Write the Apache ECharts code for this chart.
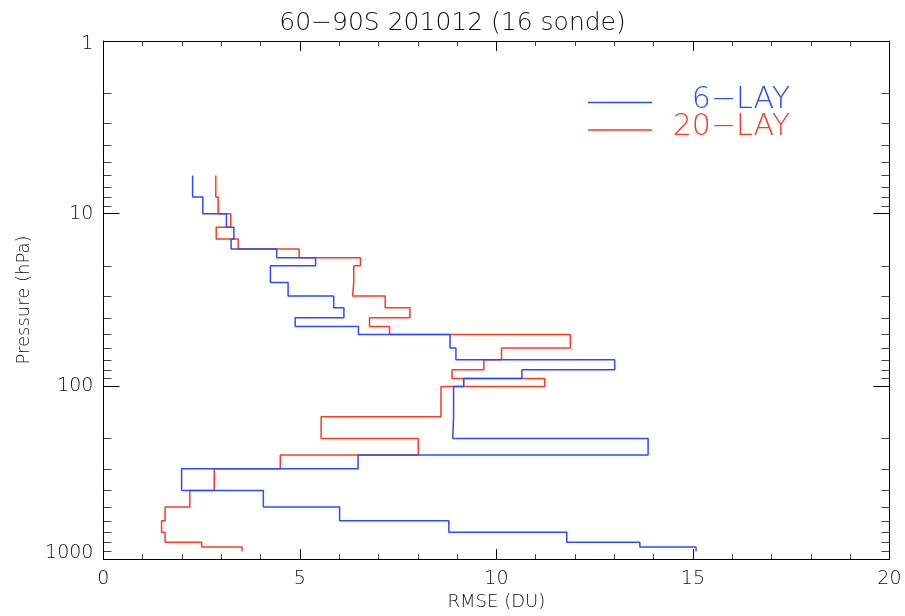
<!DOCTYPE html>
<html><head><meta charset="utf-8">
<script src="https://cdn.jsdelivr.net/npm/echarts@6/dist/echarts.min.js"></script>
<style>html,body{margin:0;padding:0;background:#fff}#c{width:905px;height:616px}</style>
</head><body><div id="c"></div>
<script>
// layer boundaries (hPa), top to bottom
const layerBounds = [6,8,10,12,14,16,18,20,25,30,35,40,45,50,60,70,80,90,100,150,200,250,300,400,500,600,700,800,850,900];
// RMSE (DU) per layer
const rmse6lay = [2.27,2.53,3.13,3.32,3.25,4.41,5.40,4.25,4.70,5.86,6.12,4.88,6.49,8.82,8.97,13.01,10.65,9.17,8.91,8.89,13.86,6.48,1.99,4.07,6.01,8.79,11.79,13.65,15.08];
const rmse20lay = [2.86,2.92,3.24,2.87,3.43,4.98,6.54,6.37,6.34,7.17,7.80,6.77,7.28,11.88,10.13,9.68,8.87,11.23,8.59,5.54,8.01,4.50,2.82,2.20,1.57,1.48,1.57,2.50,3.53];
const seriesNames = ['6-LAY','20-LAY'];
const xTicks = [0,5,10,15,20];
const yTicks = [1,10,100,1000];
const yMinorTicks = [2,3,4,5,6,7,8,9,20,30,40,50,60,70,80,90,200,300,400,500,600,700,800,900];

const BLUE = '#2b4cff', RED = '#ff3a1f';
const FONT = 'DejaVu Sans';
const TXT = '#111';

function stepPoints(vals){
  const pts = [];
  for (let i = 0; i < vals.length; i++){
    pts.push([vals[i], layerBounds[i]]);
    pts.push([vals[i], layerBounds[i+1]]);
  }
  return pts;
}

const chart = echarts.init(document.getElementById('c'), null, {renderer:'canvas'});
const axisCommonX = {
  type:'value', min:xTicks[0], max:xTicks[xTicks.length-1], interval:5,
  axisLine:{show:true, onZero:false, lineStyle:{color:'#000', width:1}},
  axisTick:{show:true, inside:true, length:10, lineStyle:{color:'#000', width:1}},
  minorTick:{show:true, splitNumber:5, length:5, lineStyle:{color:'#444', width:1}},
  splitLine:{show:false}, minorSplitLine:{show:false}
};
const axisCommonY = {
  type:'log', logBase:10, min:yTicks[0], max:yTicks[yTicks.length-1], inverse:true,
  axisLine:{show:true, onZero:false, lineStyle:{color:'#000', width:1}},
  axisTick:{show:true, inside:true, length:16, lineStyle:{color:'#000', width:1}},
  splitLine:{show:false}
};

chart.setOption({
  animation:false,
  backgroundColor:'#fff',
  title:{text:'60\u221290S 201012 (16 sonde)', left:'center', top:6,
    textStyle:{fontFamily:FONT, fontSize:25, fontWeight:200, color:TXT}},
  grid:{left:103.4, right:15.6, top:41, bottom:54, containLabel:false},
  xAxis:[
    Object.assign({}, axisCommonX, {position:'bottom',
      name:'RMSE (DU)', nameLocation:'middle', nameGap:33,
      nameTextStyle:{fontFamily:FONT, fontSize:18, fontWeight:200, color:TXT},
      axisLabel:{show:true, margin:10, fontFamily:FONT, fontSize:19, fontWeight:200, color:TXT}}),
    Object.assign({}, axisCommonX, {position:'top', axisLabel:{show:false}})
  ],
  yAxis:[
    Object.assign({}, axisCommonY, {position:'left',
      name:'Pressure (hPa)', nameLocation:'middle', nameGap:70, nameRotate:90,
      nameTextStyle:{fontFamily:FONT, fontSize:18, fontWeight:200, color:TXT},
      axisLabel:{show:true, margin:10, fontFamily:FONT, fontSize:19, fontWeight:200, color:TXT,
        formatter:function(v){
          if (v === 1000) return '{lo|1000}';
          if (v === 1) return '{hi|1}';
          return String(v);
        },
        rich:{
          lo:{fontFamily:FONT, fontSize:19, fontWeight:200, color:TXT, padding:[0,0,12,0]},
          hi:{fontFamily:FONT, fontSize:19, fontWeight:200, color:TXT, padding:[6,0,0,0]}
        }}}),
    Object.assign({}, axisCommonY, {position:'right', axisLabel:{show:false}})
  ],
  series:[
    {name:seriesNames[0], type:'line', xAxisIndex:0, yAxisIndex:0, data:stepPoints(rmse6lay),
      showSymbol:false, symbol:'none', lineStyle:{color:BLUE, width:1.5}, itemStyle:{color:BLUE}, z:3},
    {name:seriesNames[1], type:'line', xAxisIndex:0, yAxisIndex:0, data:stepPoints(rmse20lay),
      showSymbol:false, symbol:'none', lineStyle:{color:RED, width:1.5}, itemStyle:{color:RED}, z:2},
    {type:'custom', xAxisIndex:0, yAxisIndex:0, silent:true, z:5,
      data:yMinorTicks.map(v => [xTicks[0], v]),
      encode:{x:0, y:1},
      renderItem:function(params, api){
        const cs = params.coordSys;
        const c = api.coord([api.value(0), api.value(1)]);
        const y = Math.round(c[1]) + 0.5;
        return {type:'group', children:[
          {type:'line', shape:{x1:cs.x, y1:y, x2:cs.x+8, y2:y}, style:{stroke:'#444', lineWidth:1}},
          {type:'line', shape:{x1:cs.x+cs.width-8, y1:y, x2:cs.x+cs.width, y2:y}, style:{stroke:'#444', lineWidth:1}}
        ]};
      }}
  ],
  graphic:[
    {type:'line', shape:{x1:588, y1:102.5, x2:652, y2:102.5}, style:{stroke:BLUE, lineWidth:1.5}},
    {type:'text', x:790, y:100, style:{text:'6\u2212LAY', align:'right', verticalAlign:'middle',
      fontFamily:FONT, fontSize:30, fontWeight:200, fill:BLUE}},
    {type:'line', shape:{x1:588, y1:130, x2:652, y2:130}, style:{stroke:RED, lineWidth:1.5}},
    {type:'text', x:790, y:127, style:{text:'20\u2212LAY', align:'right', verticalAlign:'middle',
      fontFamily:FONT, fontSize:30, fontWeight:200, fill:RED}}
  ]
});
</script>
</body></html>
